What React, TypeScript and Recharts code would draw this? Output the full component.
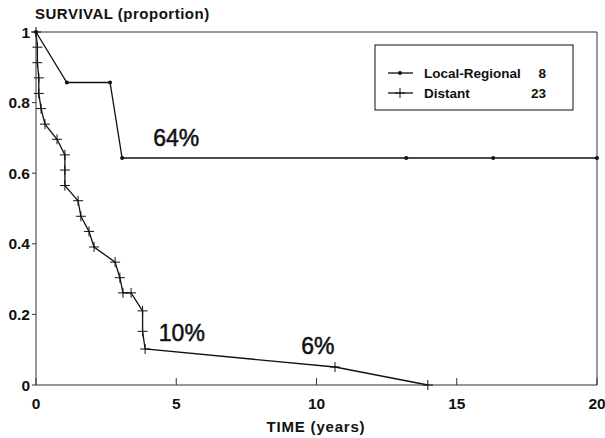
import { LineChart, Line, XAxis, YAxis, ReferenceLine, ReferenceDot } from "recharts";

// survival time (years) and proportion surviving
const localTimes = [0, 1.1, 2.64, 3.07, 13.2, 16.3, 20];
const localSurvival = [1, 0.857, 0.857, 0.643, 0.643, 0.643, 0.643];

const distantTimes = [0, 0.05, 0.05, 0.1, 0.1, 0.18, 0.32, 0.75, 1.03, 1.03, 1.03, 1.5, 1.6, 1.89, 2.07, 2.82, 2.99, 3.1, 3.39, 3.8, 3.8, 3.89, 10.66, 13.97];
const distantSurvival = [1, 0.957, 0.913, 0.87, 0.826, 0.783, 0.739, 0.696, 0.652, 0.609, 0.565, 0.522, 0.478, 0.435, 0.391, 0.348, 0.304, 0.261, 0.261, 0.21, 0.152, 0.102, 0.051, 0];

const xTicks = [0, 5, 10, 15, 20];
const yTicks = [0, 0.2, 0.4, 0.6, 0.8, 1];

const seriesNames = ["Local-Regional", "Distant"];
const seriesCounts = ["8", "23"];

// percentage call-outs: [time, survival, text]
const annotations: [number, number, string][] = [
    [5.0, 0.7, "64%"],
    [5.2, 0.147, "10%"],
    [10.05, 0.112, "6%"],
];

const localData = localTimes.map((t, i) => ({ t, s: localSurvival[i] }));
const distantData = distantTimes.map((t, i) => ({ t, s: distantSurvival[i] }));

const FONT = "'Liberation Sans', Arial, sans-serif";
const INK = "#111";

function RoundDot(props: any) {
    const { cx, cy } = props;
    return <circle cx={cx} cy={cy} r={2} fill={INK} />;
}

function PlusDot(props: any) {
    const { cx, cy } = props;
    return (
        <g stroke={INK} strokeWidth={1}>
            <line x1={cx - 5} y1={cy} x2={cx + 5} y2={cy} />
            <line x1={cx} y1={cy - 5} x2={cx} y2={cy + 5} />
        </g>
    );
}

function XTick(props: any) {
    const { x, y, payload } = props;
    return (
        <g>
            <line x1={x} y1={y} x2={x} y2={y - 7} stroke="#333" />
            <text x={x} y={y + 24} textAnchor="middle" fontFamily={FONT} fontWeight="bold" fontSize={15.5} fill={INK}>
                {payload.value}
            </text>
        </g>
    );
}

export default function App() {
    return (
        <div style={{ position: "absolute", left: 0, top: 0, width: 605, height: 438, background: "#fff" }}>
            <LineChart width={605} height={438} margin={{ top: 32, right: 8, bottom: 23, left: 0 }}>
                <XAxis
                    dataKey="t"
                    type="number"
                    domain={[0, 20]}
                    ticks={xTicks}
                    tickSize={0}
                    tickMargin={0}
                    tick={<XTick />}
                    height={30}
                    stroke="#333"
                    allowDuplicatedCategory={false}
                />
                <YAxis
                    type="number"
                    domain={[0, 1]}
                    ticks={yTicks}
                    width={36}
                    tickSize={4}
                    tickMargin={2}
                    stroke="#333"
                    tick={{ fill: INK, fontSize: 15.5, fontWeight: "bold", fontFamily: FONT }}
                    tickFormatter={(v) => String(Number(v.toFixed(1)))}
                />
                <ReferenceLine y={1} stroke="#333" />
                <ReferenceLine x={20} stroke="#333" />
                <Line
                    data={localData}
                    dataKey="s"
                    type="linear"
                    stroke={INK}
                    strokeWidth={1.3}
                    dot={(p: any) => <RoundDot key={`l${p.index}`} {...p} />}
                    isAnimationActive={false}
                />
                <Line
                    data={distantData}
                    dataKey="s"
                    type="linear"
                    stroke={INK}
                    strokeWidth={1.3}
                    dot={(p: any) => <PlusDot key={`d${p.index}`} {...p} />}
                    isAnimationActive={false}
                />
                {annotations.map(([t, s, txt]) => (
                    <ReferenceDot
                        key={txt}
                        x={t}
                        y={s}
                        r={0}
                        stroke="none"
                        fill="none"
                        label={{ value: txt, position: "center", fontSize: 23, fontFamily: FONT, fill: INK, stroke: INK, strokeWidth: 0.5 }}
                    />
                ))}
            </LineChart>
            <svg width={605} height={438} style={{ position: "absolute", left: 0, top: 0, pointerEvents: "none" }}>
                <text x={35} y={19} fontFamily={FONT} fontWeight="bold" fontSize={15} letterSpacing={0.5} fill={INK}>
                    SURVIVAL (proportion)
                </text>
                <text x={316} y={432} textAnchor="middle" fontFamily={FONT} fontWeight="bold" fontSize={15} letterSpacing={0.8} fill={INK}>
                    TIME (years)
                </text>
                <rect x={375} y={45} width={198} height={65} fill="#fff" stroke={INK} strokeWidth={1} />
                {seriesNames.map((name, i) => {
                    const y = 73 + i * 20;
                    return (
                        <g key={name}>
                            <line x1={388} y1={y} x2={413} y2={y} stroke={INK} strokeWidth={1.3} />
                            {i === 0 ? <RoundDot cx={400} cy={y} /> : <PlusDot cx={400} cy={y} />}
                            <text x={424} y={y + 5} fontFamily={FONT} fontWeight="bold" fontSize={13.5} fill={INK}>
                                {name}
                            </text>
                            <text x={546} y={y + 5} textAnchor="end" fontFamily={FONT} fontWeight="bold" fontSize={13.5} fill={INK}>
                                {seriesCounts[i]}
                            </text>
                        </g>
                    );
                })}
            </svg>
        </div>
    );
}
